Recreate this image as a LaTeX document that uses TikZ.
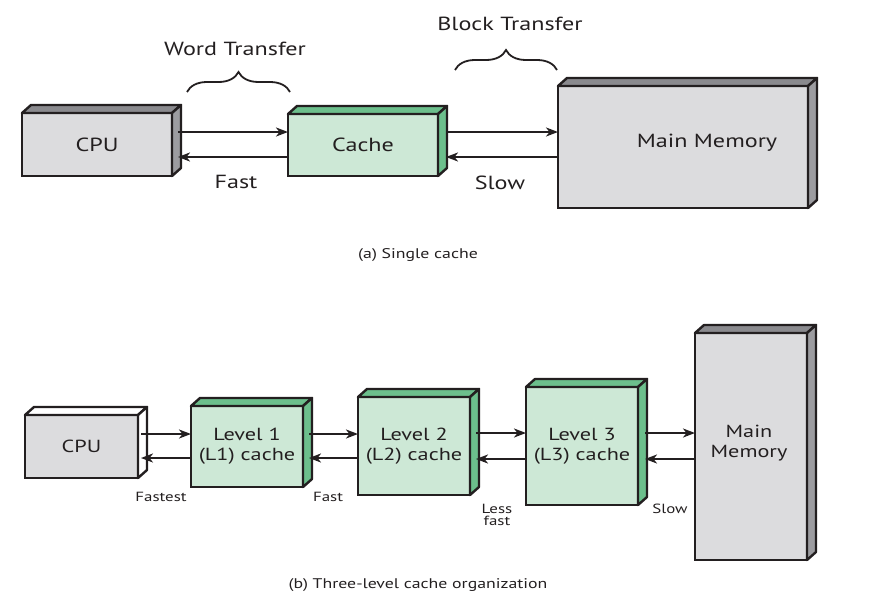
\documentclass[tikz,border=0pt]{standalone}
\usepackage{fontspec}
\setmainfont{PT Sans}[FakeStretch=1.27]
\usetikzlibrary{arrows.meta,decorations.pathreplacing,calc}
\definecolor{gfront}{HTML}{DCDCDE}
\definecolor{gside}{HTML}{9C9CA0}
\definecolor{gtop}{HTML}{8A8A8E}
\definecolor{cfront}{HTML}{CDE8D6}
\definecolor{cside}{HTML}{6CBF8C}
\definecolor{ink}{HTML}{231F20}
\newcommand\mkcube[3]{%
  \filldraw[fill=#2, facestyle] (#1.north west) -- ++(9,-8) -- ($(#1.north east)+(9,-8)$) -- (#1.north east) -- cycle;
  \filldraw[fill=#3, facestyle] (#1.north east) -- ++(9,-8) -- ($(#1.south east)+(9,-8)$) -- (#1.south east) -- cycle;}
\begin{document}
\begin{tikzpicture}[x=1pt,y=-1pt, text=ink,
  facestyle/.style={draw=ink, line width=2.4pt, line join=round},
  boxface/.style={draw=ink, line width=2.4pt, inner sep=0pt, outer sep=0pt, align=center},
  graybox/.style={boxface, fill=gfront},
  greenbox/.style={boxface, fill=cfront},
  big/.style={font=\fontsize{19}{21}\selectfont},
  mid/.style={font=\fontsize{17.5}{20}\selectfont},
  small/.style={font=\fontsize{13.3}{12}\selectfont},
  captext/.style={font=\fontsize{14}{16}\selectfont},
  arr/.style={draw=ink, line width=2pt, -{Stealth[length=12pt,width=9pt,inset=3.5pt]}},
  bracestyle/.style={draw=ink, line width=1.8pt, decorate, decoration={brace, amplitude=20pt}}]
\useasboundingbox (0,0) rectangle (882,605);

% ---------- (a) single cache ----------
\node[graybox, big, minimum width=150, minimum height=63] (cpu) at (97,144.5) {CPU};
\mkcube{cpu}{gtop}{gside}
\node[greenbox, big, minimum width=150, minimum height=62] (cache) at (363,145) {Cache};
\mkcube{cache}{cside}{cside}
\node[graybox, minimum width=250, minimum height=122] (mm) at (683,147) {};
\mkcube{mm}{gtop}{gside}
\node[big] (mmtext) at (707,143) {Main Memory};

\coordinate (a1) at (178,132);
\coordinate (a2) at (178,157);
\coordinate (a3) at (446,132);
\coordinate (a4) at (446,157);
\draw[arr] (a1) -- (a1 -| cache.west);
\draw[arr] (a2 -| cache.west) -- (a2);
\draw[arr] (a3) -- (a3 -| mm.west);
\draw[arr] (a4 -| mm.west) -- (a4);

\coordinate (wb1) at (187,92);
\coordinate (wb2) at (290,92);
\draw[bracestyle] (wb1) -- (wb2);
\node[big] (wt) at (235,49) {Word Transfer};
\coordinate (bb1) at (455,70);
\coordinate (bb2) at (557,70);
\draw[bracestyle] (bb1) -- (bb2);
\node[big] (bt) at (510,24) {Block Transfer};
\node[big] (fast1) at (236,182) {Fast};
\node[big] (slow1) at (500,183) {Slow};
\node[captext] (capa) at (418,255) {(a) Single cache};

% ---------- (b) three-level ----------
\node[graybox, mid, minimum width=113, minimum height=63] (cpu2) at (81.5,446.5) {CPU};
\mkcube{cpu2}{white}{white}
\node[greenbox, mid, minimum width=112, minimum height=81] (l1) at (247,446.5) {Level 1\\(L1) cache};
\mkcube{l1}{cside}{cside}
\node[greenbox, mid, minimum width=112, minimum height=98] (l2) at (414,446) {Level 2\\(L2) cache};
\mkcube{l2}{cside}{cside}
\node[greenbox, mid, minimum width=112, minimum height=118] (l3) at (582,446) {Level 3\\(L3) cache};
\mkcube{l3}{cside}{cside}
\node[graybox, mid, minimum width=112, minimum height=227] (mm2) at (751,446.5) {};
\mkcube{mm2}{gtop}{gside}
\node[mid, align=center] (mm2text) at (749,443) {Main\\Memory};

\coordinate (b1) at (141,434);
\coordinate (b2) at (141,458);
\coordinate (b3) at (309,434);
\coordinate (b4) at (309,458);
\coordinate (b5) at (476,433);
\coordinate (b6) at (476,459);
\coordinate (b7) at (645,433);
\coordinate (b8) at (645,459);
\draw[arr] (b1) -- (b1 -| l1.west);
\draw[arr] (b2 -| l1.west) -- (b2);
\draw[arr] (b3) -- (b3 -| l2.west);
\draw[arr] (b4 -| l2.west) -- (b4);
\draw[arr] (b5) -- (b5 -| l3.west);
\draw[arr] (b6 -| l3.west) -- (b6);
\draw[arr] (b7) -- (b7 -| mm2.west);
\draw[arr] (b8 -| mm2.west) -- (b8);

\node[small] (fastest) at (161,497) {Fastest};
\node[small] (fast2) at (328,497) {Fast};
\node[small, align=center] (lessfast) at (497,515) {Less\\fast};
\node[small] (slow2) at (670,509) {Slow};
\node[captext] (capb) at (418,585) {(b) Three-level cache organization};
\end{tikzpicture}
\end{document}
